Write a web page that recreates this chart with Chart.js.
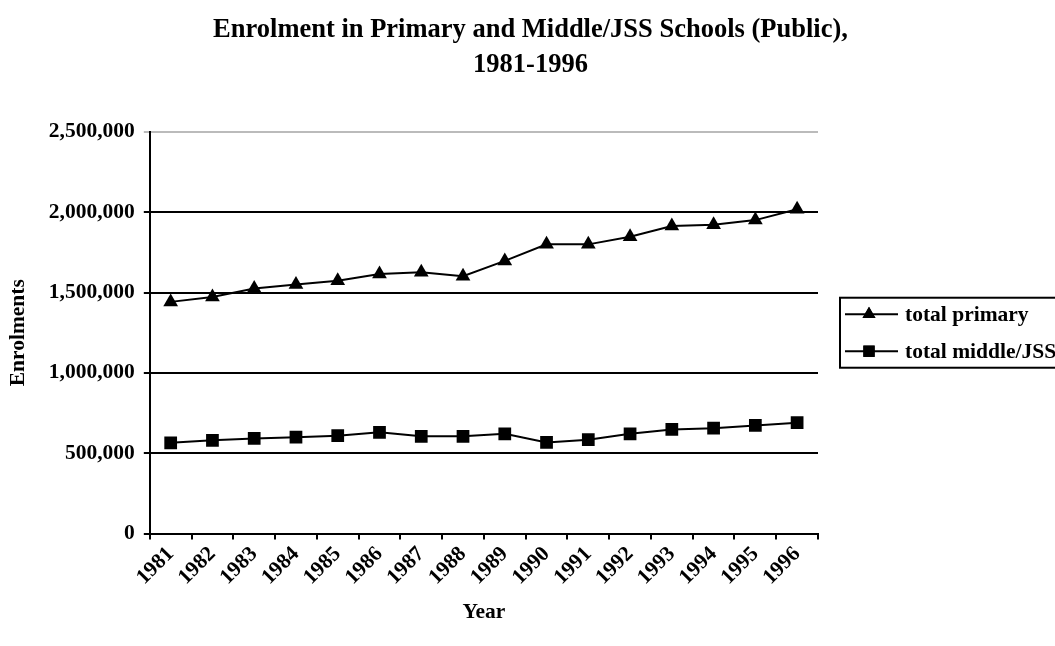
<!DOCTYPE html>
<html>
<head>
<meta charset="utf-8">
<script src="https://cdn.jsdelivr.net/npm/chart.js@4"></script>
<style>
  html, body { margin: 0; padding: 0; background: #fff; }
  #wrap { width: 1055px; height: 646px; }
</style>
</head>
<body>
<div id="wrap"><canvas id="lineChart"></canvas></div>
<script>
// Dữ liệu
const years = ['1981', '1982', '1983', '1984', '1985', '1986', '1987', '1988',
               '1989', '1990', '1991', '1992', '1993', '1994', '1995', '1996'];
const totalPrimary = [1442000, 1473000, 1525000, 1550000, 1573000, 1615000, 1627000, 1602000,
                      1697000, 1800000, 1800000, 1848000, 1914000, 1922000, 1951000, 2018000];
const totalMiddle = [565000, 580000, 592000, 600000, 609000, 630000, 605000, 605000,
                     621000, 567000, 584000, 621000, 648000, 656000, 673000, 690000];
const seriesNames = ['total primary', 'total middle/JSS'];

const serif = "'Liberation Serif', 'Times New Roman', serif";

// Plugin vẽ chú thích có khung (giống Excel)
const boxLegend = {
    id: 'boxLegend',
    afterDraw(chart) {
        const ctx = chart.ctx;
        const area = chart.chartArea;
        const x0 = area.right + 22;
        const cy = (area.top + area.bottom) / 2;
        const rowH = 37;
        ctx.save();
        ctx.strokeStyle = '#000';
        ctx.lineWidth = 2;
        ctx.strokeRect(x0, cy - 35, chart.width - x0 + 5, 70);
        ctx.font = 'bold 21.5px ' + serif;
        ctx.textBaseline = 'middle';
        ctx.fillStyle = '#000';
        chart.data.datasets.forEach((ds, i) => {
            const y = cy - rowH / 2 + i * rowH;
            ctx.beginPath();
            ctx.moveTo(x0 + 5, y);
            ctx.lineTo(x0 + 58, y);
            ctx.lineWidth = 2;
            ctx.stroke();
            Chart.helpers.drawPoint(ctx, { pointStyle: ds.pointStyle, radius: i === 0 ? 7.5 : 8, rotation: 0, borderWidth: 0 }, x0 + 29, y);
            ctx.fill();
            ctx.fillText(ds.label, x0 + 65, y + 1);
        });
        ctx.restore();
    }
};

const config = {
    type: 'line',
    data: {
        labels: years,
        datasets: [
            {
                label: seriesNames[0],
                data: totalPrimary,
                borderColor: '#000',
                backgroundColor: '#000',
                borderWidth: 2,
                pointStyle: 'triangle',
                pointRadius: 8.5,
                pointBorderWidth: 0,
                tension: 0
            },
            {
                label: seriesNames[1],
                data: totalMiddle,
                borderColor: '#000',
                backgroundColor: '#000',
                borderWidth: 2,
                pointStyle: 'rect',
                pointRadius: 9,
                pointBorderWidth: 0,
                tension: 0
            }
        ]
    },
    options: {
        responsive: true,
        maintainAspectRatio: false,
        animation: false,
        layout: {
            padding: { left: 6, right: 0, top: 0, bottom: 11 }
        },
        plugins: {
            legend: { display: false },
            tooltip: { enabled: false },
            title: {
                display: true,
                text: ['Enrolment in Primary and Middle/JSS Schools (Public),', '1981-1996'],
                color: '#000',
                font: { family: serif, size: 26.5, weight: 'bold', lineHeight: 1.3 },
                padding: { top: 13, bottom: 50 }
            }
        },
        scales: {
            x: {
                offset: true,
                grid: {
                    offset: true,
                    drawOnChartArea: false,
                    color: '#000',
                    lineWidth: 2,
                    tickLength: 6
                },
                border: { color: '#000', width: 2 },
                ticks: {
                    color: '#000',
                    font: { family: serif, size: 21.5, weight: 'bold' },
                    minRotation: 45,
                    maxRotation: 45,
                    padding: 2
                },
                title: {
                    display: true,
                    text: 'Year',
                    color: '#000',
                    font: { family: serif, size: 21.5, weight: 'bold' },
                    padding: { top: 7, bottom: 10 }
                }
            },
            y: {
                min: 0,
                max: 2500000,
                grid: {
                    color: (c) => c.tick && c.tick.value === 2500000 ? '#bbb' : '#000',
                    lineWidth: 2,
                    tickLength: 6
                },
                border: { color: '#000', width: 2 },
                ticks: {
                    stepSize: 500000,
                    color: '#000',
                    font: { family: serif, size: 21.5, weight: 'bold' },
                    padding: 9,
                    callback: (v) => v.toLocaleString('en-US')
                },
                title: {
                    display: true,
                    text: 'Enrolments',
                    color: '#000',
                    font: { family: serif, size: 21.5, weight: 'bold' },
                    padding: { top: 0, bottom: 8 }
                }
            },
            // trục ẩn để chừa chỗ cho chú thích bên phải
            legendSpace: {
                type: 'linear',
                position: 'right',
                display: true,
                grid: { display: false, drawTicks: false },
                border: { display: false },
                ticks: { display: false },
                afterFit: (scale) => { scale.width = 237; }
            }
        }
    },
    plugins: [boxLegend]
};

const lineChart = new Chart(document.getElementById('lineChart'), config);
</script>
</body>
</html>
